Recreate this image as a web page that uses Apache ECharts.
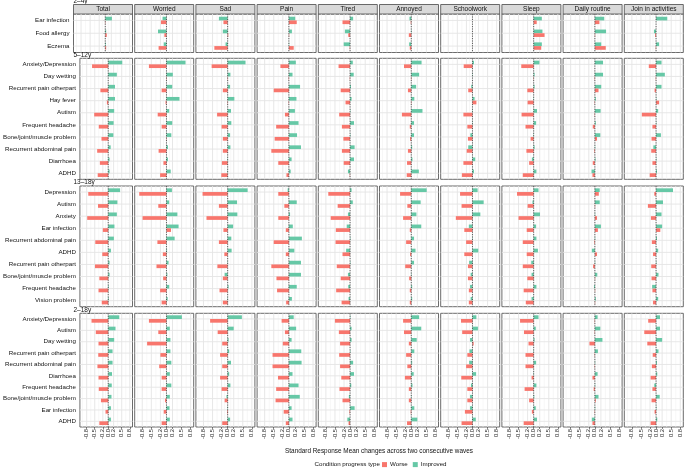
<!DOCTYPE html>
<html><head><meta charset="utf-8">
<script src="https://cdn.jsdelivr.net/npm/echarts@6/dist/echarts.min.js"></script>
<style>html,body{margin:0;padding:0;background:#fff}#c{width:685px;height:468px}</style>
</head><body><div id="c"></div>
<script>
// ---------------- data ----------------
const facets = ['Total','Worried','Sad','Pain','Tired','Annoyed','Schoolwork','Sleep','Daily routine','Join in activities'];
const groupLabels = ['2–4y','5–12y','13–18y','2–18y'];
const xBreaks = [-0.8,-0.5,-0.2,0,0.2,0.5,0.8];
const xMinor = [-0.95,-0.65,-0.35,-0.1,0.1,0.35,0.65];

const cats_2_4 = ['Ear infection','Food allergy','Eczema'];
const improved_2_4 = [
  [0.22,0.03,0.02],[-0.13,-0.28,-0.09],[-0.29,-0.16,-0.07],[0.21,0.10,0.01],[0.10,-0.17,-0.21],
  [-0.06,0.01,-0.07],[null,null,null],[0.27,0.29,0.27],[0.31,0.37,0.21],[0.37,-0.07,0.10]
];
const worse_2_4 = [
  [-0.01,0.05,0.03],[-0.18,-0.07,-0.26],[-0.14,0.02,-0.44],[0.26,0.01,0.16],[-0.25,-0.06,-0.01],
  [-0.02,-0.08,-0.05],[null,null,null],[0.10,0.36,0.25],[0.15,0.01,0.36],[0.00,-0.03,-0.01]
];

const cats_5_12 = ['Anxiety/Depression','Day wetting','Recurrent pain otherpart','Hay fever','Autism','Frequent headache','Bone/joint/muscle problem','Recurrent abdominal pain','Diarrhoea','ADHD'];
const improved_5_12 = [
  [0.52,0.32,0.25,0.25,0.22,0.20,0.19,0.09,0.05,0.05],
  [0.63,0.21,0.19,0.43,0.09,0.19,0.16,0.05,0.05,0.14],
  [0.59,0.09,0.08,0.22,0.11,0.12,0.08,0.09,0.01,0.01],
  [0.23,0.12,0.37,0.25,0.20,0.32,0.27,0.40,0.09,0.06],
  [0.09,0.12,0.03,0.05,0.01,0.13,0.01,0.15,0.13,-0.07],
  [0.34,0.26,0.16,0.10,0.37,0.09,0.09,0.03,0.04,0.25],
  [0.05,0.01,-0.04,0.07,0.01,0.01,-0.07,-0.14,0.09,0.05],
  [0.19,0.03,0.03,0.01,0.11,0.08,0.01,0.03,-0.06,0.09],
  [0.27,0.27,0.21,0.03,0.19,0.03,0.18,0.01,0.02,-0.11],
  [0.18,0.29,0.18,0.01,0.07,0.01,0.16,-0.09,0.01,0.03]
];
const worse_5_12 = [
  [-0.60,0.00,-0.29,-0.05,-0.52,-0.35,-0.25,-0.41,-0.31,-0.39],
  [-0.58,-0.01,-0.16,-0.03,-0.29,-0.16,-0.01,-0.26,-0.10,-0.21],
  [-0.53,-0.01,-0.16,-0.01,-0.35,-0.20,-0.16,-0.16,-0.19,-0.21],
  [-0.28,-0.01,-0.50,-0.01,-0.13,-0.42,-0.47,-0.58,-0.35,-0.08],
  [-0.38,-0.01,-0.31,-0.15,-0.36,-0.27,-0.22,-0.27,-0.21,-0.01],
  [-0.24,-0.01,-0.11,-0.01,-0.31,-0.05,-0.04,-0.11,-0.14,-0.15],
  [-0.29,0.00,-0.14,0.13,-0.30,-0.17,-0.15,-0.19,-0.30,-0.35],
  [-0.41,-0.01,-0.21,-0.20,-0.40,-0.27,-0.10,-0.24,-0.15,-0.36],
  [0.00,-0.01,0.12,-0.01,-0.01,-0.07,0.07,-0.02,-0.07,-0.08],
  [-0.24,-0.01,-0.05,0.10,-0.47,-0.12,-0.15,-0.16,-0.12,-0.21]
];

const cats_13_18 = ['Depression','Autism','Anxiety','Ear infection','Recurrent abdominal pain','ADHD','Recurrent pain otherpart','Bone/joint/muscle problem','Frequent headache','Vision problem'];
const improved_13_18 = [
  [0.44,0.34,0.32,0.23,0.21,0.10,0.05,0.05,0.02,0.02],
  [0.18,0.09,0.36,0.40,0.27,0.02,0.07,0.03,0.09,0.04],
  [0.66,0.31,0.32,0.18,0.12,0.13,0.01,-0.10,0.03,0.01],
  [-0.04,0.26,0.04,0.13,0.43,0.18,0.40,0.40,0.26,0.10],
  [0.05,0.09,-0.07,-0.11,0.01,-0.13,0.01,-0.07,-0.06,-0.05],
  [0.51,0.31,0.17,0.33,0.09,0.14,0.09,0.01,0.03,0.03],
  [0.17,0.37,0.26,-0.12,0.01,0.19,-0.11,-0.06,-0.08,-0.06],
  [0.16,-0.04,0.21,0.08,0.09,0.14,-0.08,-0.07,0.09,-0.07],
  [0.16,0.16,0.01,0.20,0.01,-0.10,0.01,0.08,-0.03,0.03],
  [0.56,0.23,0.18,0.20,0.03,0.07,0.01,0.08,-0.13,0.07]
];
const worse_13_18 = [
  [-0.74,-0.38,-0.78,-0.20,-0.48,-0.22,-0.49,-0.33,-0.36,-0.24],
  [-0.90,-0.27,-0.79,0.15,-0.30,-0.12,-0.33,-0.11,-0.21,-0.16],
  [-0.83,-0.29,-0.70,-0.14,-0.29,-0.11,-0.34,-0.16,-0.27,-0.16],
  [-0.35,-0.15,-0.35,-0.10,-0.50,-0.10,-0.58,-0.41,-0.39,-0.09],
  [-0.72,-0.41,-0.64,-0.47,-0.48,-0.25,-0.44,-0.31,-0.46,-0.28],
  [-0.37,-0.13,-0.27,-0.05,-0.17,-0.04,-0.20,-0.07,-0.05,-0.05],
  [-0.41,-0.36,-0.55,-0.27,-0.21,-0.27,-0.15,-0.15,-0.12,-0.12],
  [-0.55,-0.20,-0.50,-0.23,-0.36,-0.23,-0.36,-0.21,-0.33,-0.26],
  [0.13,0.01,0.07,0.10,-0.02,0.07,-0.06,0.01,0.01,0.01],
  [-0.06,-0.27,-0.17,0.14,-0.14,-0.10,-0.16,-0.15,-0.12,-0.10]
];

const cats_2_18 = ['Anxiety/Depression','Autism','Day wetting','Recurrent pain otherpart','Recurrent abdominal pain','Diarrhoea','Frequent headache','Bone/joint/muscle problem','Ear infection','ADHD'];
const improved_2_18 = [
  [0.41,0.27,0.22,0.16,0.16,0.14,0.13,0.12,0.10,0.10],
  [0.51,0.11,0.13,0.13,0.16,0.11,0.16,0.11,0.10,0.11],
  [0.47,0.20,0.03,0.05,0.11,0.05,0.09,-0.04,0.01,0.08],
  [0.16,0.24,0.09,0.41,0.42,0.12,0.32,0.36,0.09,0.12],
  [0.01,0.05,0.05,0.01,0.10,0.13,0.04,-0.04,0.15,-0.09],
  [0.26,0.33,0.18,0.10,0.03,0.08,0.04,0.01,0.10,0.20],
  [0.13,0.18,-0.08,-0.10,-0.11,0.12,-0.05,-0.08,-0.08,0.11],
  [0.16,0.07,0.03,0.01,0.08,0.01,0.09,0.02,0.07,0.11],
  [0.09,0.18,0.25,0.10,0.01,0.09,0.01,0.12,0.01,-0.10],
  [0.13,0.13,0.20,0.08,0.03,0.04,-0.06,0.12,0.01,0.04]
];
const worse_2_18 = [
  [-0.62,-0.46,-0.36,-0.37,-0.40,-0.36,-0.35,-0.27,-0.10,-0.33],
  [-0.58,-0.27,-0.64,-0.20,-0.24,-0.16,-0.16,-0.05,-0.09,-0.16],
  [-0.58,-0.33,-0.18,-0.25,-0.18,-0.25,-0.20,-0.10,-0.02,-0.18],
  [-0.24,-0.13,-0.20,-0.54,-0.54,-0.36,-0.42,-0.44,-0.17,-0.10],
  [-0.50,-0.37,-0.33,-0.36,-0.33,-0.29,-0.35,-0.25,-0.02,-0.05],
  [-0.27,-0.24,-0.08,-0.17,-0.13,-0.21,-0.08,-0.08,-0.02,-0.14],
  [-0.38,-0.34,0.04,-0.17,-0.21,-0.37,-0.17,-0.17,-0.25,-0.36],
  [-0.45,-0.32,-0.17,-0.27,-0.27,-0.07,-0.30,-0.15,-0.06,-0.33],
  [-0.01,-0.01,-0.18,-0.01,-0.01,-0.08,-0.04,0.03,-0.01,-0.08],
  [-0.26,-0.39,-0.29,-0.11,-0.14,-0.18,-0.12,-0.15,-0.05,-0.18]
];

// ---------------- layout / style ----------------
const FONT = '"Liberation Sans", Arial, Helvetica, sans-serif';
const COL_WORSE = '#F8766D', COL_IMPROVED = '#66C8A6';
const groups = [
  {label: groupLabels[0], cats: cats_2_4,   improved: improved_2_4,   worse: worse_2_4},
  {label: groupLabels[1], cats: cats_5_12,  improved: improved_5_12,  worse: worse_5_12},
  {label: groupLabels[2], cats: cats_13_18, improved: improved_13_18, worse: worse_13_18},
  {label: groupLabels[3], cats: cats_2_18,  improved: improved_2_18,  worse: worse_2_18}
];
const colLeft = i => 73.5 + 61.2 * i;
const PANEL_W = 59;
const rowTop = [14, 58.3, 186, 313.3];
const rowH = [38.5, 121, 120.7, 113.7];
const labelY = [0.8, 55.3, 182.6, 310.3];
const X_MIN = -1.05, X_MAX = 0.9;

function gridLines(k, n) {
  return {
    type: 'custom', xAxisIndex: k, yAxisIndex: k, data: [[0, 0]], silent: true, z: 1,
    renderItem(params, api) {
      const cs = params.coordSys; const ch = [];
      xMinor.forEach(v => { const x = api.coord([v, 0])[0];
        ch.push({type: 'line', shape: {x1: x, y1: cs.y, x2: x, y2: cs.y + cs.height}, style: {stroke: '#F2F2F2', lineWidth: 0.6}}); });
      xBreaks.forEach(v => { const x = api.coord([v, 0])[0];
        ch.push({type: 'line', shape: {x1: x, y1: cs.y, x2: x, y2: cs.y + cs.height}, style: {stroke: '#E4E4E4', lineWidth: 0.9}}); });
      for (let i = 0; i < n; i++) { const y = api.coord([0, i])[1];
        ch.push({type: 'line', shape: {x1: cs.x, y1: y, x2: cs.x + cs.width, y2: y}, style: {stroke: '#E4E4E4', lineWidth: 0.9}}); }
      return {type: 'group', children: ch};
    }
  };
}
function zeroLine(k) {
  return {
    type: 'custom', xAxisIndex: k, yAxisIndex: k, data: [[0, 0]], silent: true, z: 3,
    renderItem(params, api) {
      const cs = params.coordSys; const x = api.coord([0, 0])[0];
      return {type: 'line', shape: {x1: x, y1: cs.y, x2: x, y2: cs.y + cs.height},
        style: {stroke: '#222', lineWidth: 0.7, lineDash: [1.2, 1.2]}};
    }
  };
}

const grid = [], xAxis = [], yAxis = [], series = [], graphic = [];
let k = 0;
groups.forEach((g, r) => {
  const bottom = r === groups.length - 1;
  facets.forEach((f, c) => {
    grid.push({left: colLeft(c), top: rowTop[r], width: PANEL_W, height: rowH[r], show: true,
      backgroundColor: '#fff', borderColor: '#5a5a5a', borderWidth: 0.9});
    xAxis.push({type: 'value', gridIndex: k, min: X_MIN, max: X_MAX,
      axisLine: {show: false}, splitLine: {show: false},
      axisTick: {show: bottom, customValues: xBreaks, length: 2, lineStyle: {color: '#333', width: 0.6}},
      axisLabel: {show: bottom, customValues: xBreaks, rotate: 90, fontSize: 5.8, margin: 2, color: '#222',
        fontFamily: FONT, formatter: v => Number(v).toFixed(1)}});
    yAxis.push({type: 'category', gridIndex: k, data: g.cats, inverse: true,
      axisLine: {show: false}, splitLine: {show: false},
      axisTick: {show: c === 0, alignWithLabel: true, length: 2, lineStyle: {color: '#333', width: 0.6}},
      axisLabel: {show: c === 0, interval: 0, fontSize: 6.2, margin: 4, color: '#111', fontFamily: FONT}});
    series.push(gridLines(k, g.cats.length));
    series.push({name: 'Improved', type: 'bar', xAxisIndex: k, yAxisIndex: k, data: g.improved[c],
      barWidth: 3.7, barGap: '0%', itemStyle: {color: COL_IMPROVED}, z: 2, silent: true});
    series.push({name: 'Worse', type: 'bar', xAxisIndex: k, yAxisIndex: k, data: g.worse[c],
      barWidth: 3.7, barGap: '0%', itemStyle: {color: COL_WORSE}, z: 2, silent: true});
    series.push(zeroLine(k));
    k++;
  });
  graphic.push({type: 'text', left: 73.5, top: labelY[r] - 3.5, silent: true,
    style: {text: g.label, fontSize: 6.5, fontFamily: FONT, fill: '#111'}});
});
facets.forEach((f, c) => {
  graphic.push({type: 'rect', shape: {x: colLeft(c), y: 4.5, width: PANEL_W, height: 9.5}, silent: true,
    style: {fill: '#D9D9D9', stroke: '#5a5a5a', lineWidth: 0.9}});
  graphic.push({type: 'text', x: colLeft(c) + PANEL_W / 2, y: 9.4, silent: true,
    style: {text: f, fontSize: 6.5, fontFamily: FONT, fill: '#111', align: 'center', verticalAlign: 'middle'}});
});
graphic.push({type: 'text', x: 379, y: 451, silent: true,
  style: {text: 'Standard Response Mean changes across two consecutive waves', fontSize: 6.4, fontFamily: FONT,
    fill: '#111', align: 'center', verticalAlign: 'middle'}});
graphic.push({type: 'text', x: 314.5, y: 464.3, silent: true,
  style: {text: 'Condition progress type', fontSize: 6.2, fontFamily: FONT, fill: '#111', align: 'left', verticalAlign: 'middle'}});

const chart = echarts.init(document.getElementById('c'), null, {renderer: 'canvas'});
chart.setOption({
  animation: false,
  textStyle: {fontFamily: FONT},
  grid, xAxis, yAxis, series, graphic,
  legend: {data: ['Worse', 'Improved'], left: 382, top: 461.6, padding: 0, itemWidth: 5, itemHeight: 5, itemGap: 5,
    icon: 'rect', selectedMode: false, textStyle: {fontSize: 6.2, color: '#111', fontFamily: FONT, padding: [0, 0, 0, -2]}}
});
</script></body></html>
